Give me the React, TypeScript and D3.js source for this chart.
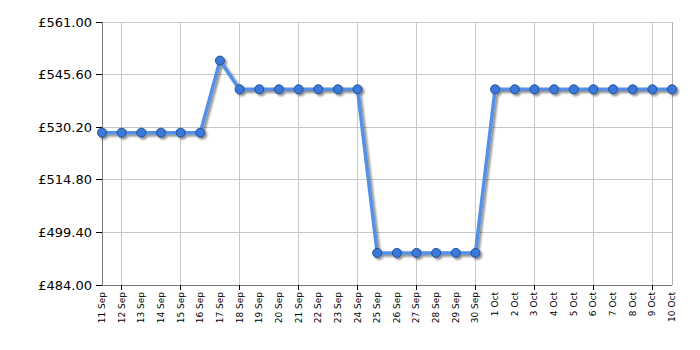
import React, { useEffect, useRef } from "react";
import * as d3 from "d3";

const dates = [
  "11 Sep", "12 Sep", "13 Sep", "14 Sep", "15 Sep", "16 Sep", "17 Sep", "18 Sep", "19 Sep", "20 Sep",
  "21 Sep", "22 Sep", "23 Sep", "24 Sep", "25 Sep", "26 Sep", "27 Sep", "28 Sep", "29 Sep", "30 Sep",
  "1 Oct", "2 Oct", "3 Oct", "4 Oct", "5 Oct", "6 Oct", "7 Oct", "8 Oct", "9 Oct", "10 Oct",
];
const prices = [
  528.6, 528.6, 528.6, 528.6, 528.6, 528.6, 549.7, 541.3, 541.3, 541.3,
  541.3, 541.3, 541.3, 541.3, 493.4, 493.4, 493.4, 493.4, 493.4, 493.4,
  541.3, 541.3, 541.3, 541.3, 541.3, 541.3, 541.3, 541.3, 541.3, 541.3,
];
const yTicks = [484, 499.4, 514.8, 530.2, 545.6, 561];

const W = 700, H = 350;
const M = { left: 102, right: 672, top: 22, bottom: 285 };

export default function App() {
  const ref = useRef<SVGSVGElement>(null);
  useEffect(() => {
    const svg = d3.select(ref.current);
    svg.selectAll("*").remove();
    const x = d3.scalePoint<string>().domain(dates).range([M.left, M.right]);
    const y = d3.scaleLinear().domain([484, 561]).range([M.bottom, M.top]);
    const font = "'DejaVu Sans', Verdana, sans-serif";

    const defs = svg.append("defs");
    const f = defs.append("filter").attr("id", "sh").attr("x", "-20%").attr("y", "-20%").attr("width", "140%").attr("height", "140%");
    f.append("feGaussianBlur").attr("in", "SourceAlpha").attr("stdDeviation", 1).attr("result", "b");
    f.append("feOffset").attr("in", "b").attr("dx", 2).attr("dy", 2).attr("result", "o");
    f.append("feComponentTransfer").attr("in", "o").attr("result", "o2")
      .append("feFuncA").attr("type", "linear").attr("slope", 0.45);
    const mg = f.append("feMerge");
    mg.append("feMergeNode").attr("in", "o2");
    mg.append("feMergeNode").attr("in", "SourceGraphic");

    const g = svg.append("g");
    yTicks.forEach((t) => {
      g.append("line").attr("x1", M.left).attr("x2", M.right).attr("y1", y(t)).attr("y2", y(t))
        .attr("stroke", "#c8c8c8").attr("stroke-width", 1).attr("shape-rendering", "crispEdges");
    });
    dates.forEach((d, i) => {
      if (i % 3 === 1) {
        g.append("line").attr("x1", x(d)!).attr("x2", x(d)!).attr("y1", M.top).attr("y2", M.bottom)
          .attr("stroke", "#c8c8c8").attr("stroke-width", 1).attr("shape-rendering", "crispEdges");
      }
    });
    g.append("line").attr("x1", M.right).attr("x2", M.right).attr("y1", M.top).attr("y2", M.bottom)
      .attr("stroke", "#b0b0b0").attr("shape-rendering", "crispEdges");

    g.append("line").attr("x1", M.left).attr("x2", M.left).attr("y1", M.top).attr("y2", M.bottom)
      .attr("stroke", "#777").attr("shape-rendering", "crispEdges");
    g.append("line").attr("x1", M.left).attr("x2", M.right).attr("y1", M.bottom).attr("y2", M.bottom)
      .attr("stroke", "#777").attr("shape-rendering", "crispEdges");

    yTicks.forEach((t) => {
      g.append("line").attr("x1", M.left - 6).attr("x2", M.left).attr("y1", y(t)).attr("y2", y(t))
        .attr("stroke", "#000").attr("shape-rendering", "crispEdges");
      g.append("text").attr("x", M.left - 10).attr("y", y(t)).attr("dy", "0.35em")
        .attr("text-anchor", "end").attr("font-family", font).attr("font-size", 13).attr("fill", "#000")
        .text("£" + t.toFixed(2));
    });

    dates.forEach((d, i) => {
      const xx = x(d)!;
      if (i % 3 === 1) {
        g.append("line").attr("x1", xx).attr("x2", xx).attr("y1", M.bottom).attr("y2", M.bottom + 5)
          .attr("stroke", "#000").attr("shape-rendering", "crispEdges");
      }
      g.append("text").attr("transform", `translate(${xx + 3},${M.bottom + 7}) rotate(-90)`)
        .attr("text-anchor", "end").attr("font-family", font).attr("font-size", 9).attr("fill", "#000")
        .text(d);
    });

    const line = d3.line<number>().x((_, i) => x(dates[i])!).y((v) => y(v));
    const sg = g.append("g").attr("filter", "url(#sh)");
    sg.append("path").datum(prices).attr("d", line).attr("fill", "none")
      .attr("stroke", "#5590e6").attr("stroke-width", 3.5).attr("stroke-linejoin", "round");
    sg.selectAll("circle").data(prices).enter().append("circle")
      .attr("cx", (_, i) => x(dates[i])!).attr("cy", (v) => y(v)).attr("r", 4.5)
      .attr("fill", "#3a78d8").attr("stroke", "#1e4f96").attr("stroke-width", 1);
  }, []);
  return <svg ref={ref} width={W} height={H} style={{ display: "block", position: "absolute", left: 0, top: 0 }} />;
}
